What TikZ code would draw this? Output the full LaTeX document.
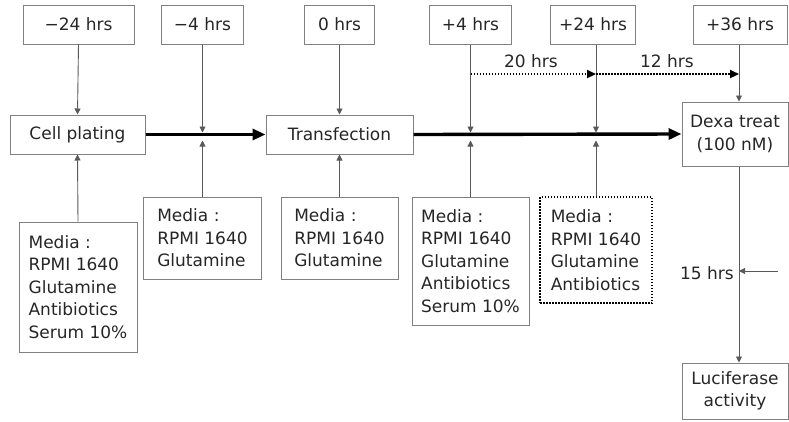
\documentclass[tikz,border=0pt]{standalone}
\usepackage{fontspec}
\setmainfont{DejaVu Sans}
\usetikzlibrary{arrows.meta}
\begin{document}
\begin{tikzpicture}[x=1pt,y=-1pt,
  box/.style={draw=black!50, line width=1pt, inner sep=0pt, text=black!85,
    font=\fontsize{17}{22.5}\selectfont},
  mbox/.style={box, align=left},
  cbox/.style={box, align=center},
  thin/.style={draw=black!65, line width=0.9pt, -{Triangle[length=6pt,width=6pt]}},
  thick/.style={draw=black, line width=3.4pt, -{Triangle[length=13pt,width=11pt]}},
  dotarr/.style={draw=black, line width=2.2pt, dash pattern=on 1.8pt off 1.2pt,
    -{Triangle[length=9pt,width=8pt]}},
  lab/.style={text=black!85, font=\fontsize{17}{22.5}\selectfont, inner sep=0pt}]
\useasboundingbox (0,0) rectangle (789,421);
% top time boxes
\node[cbox, minimum width=111, minimum height=39] (t24m) at (78.5,24.5) {−24 hrs};
\node[cbox, minimum width=82, minimum height=39] (t4m) at (202.5,24.5) {−4 hrs};
\node[cbox, minimum width=70, minimum height=39] (t0) at (339.5,24.5) {0 hrs};
\node[cbox, minimum width=82, minimum height=39] (t4p) at (470.5,24.5) {+4 hrs};
\node[cbox, minimum width=85, minimum height=39] (t24p) at (593,24.5) {+24 hrs};
\node[cbox, minimum width=94, minimum height=39] (t36p) at (740,24.5) {+36 hrs};
% main row
\node[cbox, minimum width=135, minimum height=39] (cell) at (77.5,134.5) {Cell plating};
\node[cbox, minimum width=147, minimum height=39] (trans) at (339.5,134.5) {Transfection};
\node[cbox, minimum width=106, minimum height=64] (dexa) at (735,134) {Dexa treat\\(100 nM)};
\node[cbox, minimum width=106, minimum height=56, font=\fontsize{17}{21.5}\selectfont] (luc) at (735,391) {Luciferase\\activity};
% media boxes
\node[mbox, minimum width=118, minimum height=130] (b1) at (78,287) {Media :\\RPMI 1640\\Glutamine\\Antibiotics\\Serum 10\%};
\node[mbox, minimum width=118, minimum height=82] (b2) at (202.5,238) {Media :\\RPMI 1640\\Glutamine};
\node[mbox, minimum width=117, minimum height=82] (b3) at (339.5,238) {Media :\\RPMI 1640\\Glutamine};
\node[mbox, minimum width=117, minimum height=128] (b4) at (470.5,261) {Media :\\RPMI 1640\\Glutamine\\Antibiotics\\Serum 10\%};
\node[mbox, draw=black, line width=1.5pt, dash pattern=on 1.5pt off 1.5pt,
  minimum width=112, minimum height=106] (b5) at (596,250) {Media :\\RPMI 1640\\Glutamine\\Antibiotics};
% coordinates on the main line
\coordinate (a4m) at (202.5,132.5);
\coordinate (c4m) at (202.5,140.5);
\coordinate (a4p) at (470.5,132.5);
\coordinate (c4p) at (470.5,140.5);
\coordinate (a24) at (596,132.5);
\coordinate (c24) at (596,140.5);
\coordinate (x36) at (739,0);
% thick arrows
\draw[thick] (cell.east) -- (trans.west);
\draw[thick] (trans.east) -- (dexa.west);
% top connectors
\draw[thin] (t24m.south) -- (cell.north);
\draw[thin] (t4m.south) -- (a4m);
\draw[thin] (t0.south) -- (trans.north);
\draw[thin] (t4p.south) -- (a4p);
\draw[thin] (t24p.south -| a24) -- (a24);
\draw[thin] (t36p.south -| x36) -- (dexa.north -| x36);
% bottom connectors
\draw[thin] (b1.north) -- (cell.south);
\draw[thin] (b2.north) -- (c4m);
\draw[thin] (b3.north) -- (trans.south);
\draw[thin] (b4.north) -- (c4p);
\draw[thin] (b5.north -| c24) -- (c24);
% dexa to luciferase
\draw[thin] (dexa.south -| x36) -- (luc.north -| x36);
% 15 hrs
\coordinate (r15) at (778,271);
\draw[thin] (r15) -- (r15 -| x36);
\node[lab] (l15) at (707,273) {15 hrs};
% dotted intervals
\coordinate (d1) at (470.5,74);
\coordinate (d2) at (596,74);
\coordinate (d3) at (739,74);
\draw[dotarr] (d1) -- (d2);
\draw[dotarr] (d2) -- (d3);
\node[lab] (l20) at (531,61) {20 hrs};
\node[lab] (l12) at (667,61) {12 hrs};
\end{tikzpicture}
\end{document}
